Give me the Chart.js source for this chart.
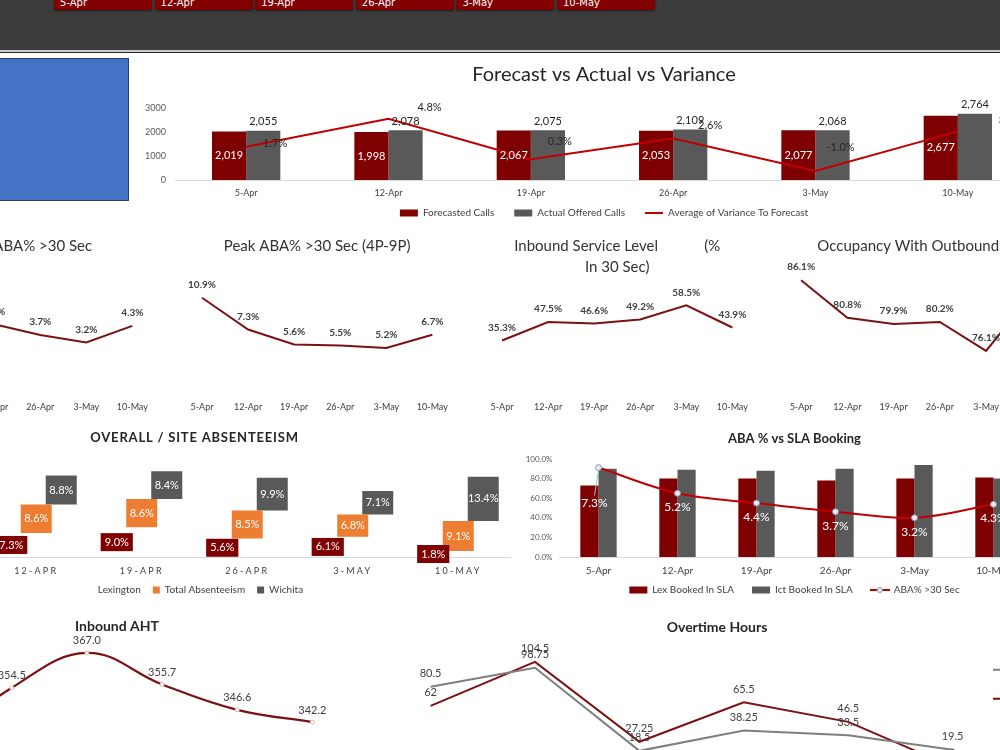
<!DOCTYPE html>
<html>
<head>
<meta charset="utf-8">
<title>Weekly Call Center Dashboard</title>
<script src="https://cdn.jsdelivr.net/npm/chart.js@4.4.1/dist/chart.umd.min.js"></script>
<style>
  html, body { margin: 0; padding: 0; }
  body { width: 1000px; height: 750px; overflow: hidden; position: relative; background: #fff; font-family: Lato, "DejaVu Sans", sans-serif; }
  .topbar { position: absolute; left: 0; top: 0; width: 1000px; height: 50px; background: #3c3b3b; }
  .topline { position: absolute; left: 0; top: 50px; width: 1000px; height: 2px; background: #c9c9c9; }
  .topline2 { position: absolute; left: 0; top: 52px; width: 1000px; height: 1px; background: #2a2a2a; }
  .week-btn { position: absolute; top: -5px; height: 15px; width: 98px; background: #820000; border-radius: 0 0 3px 3px;
              color: #fff; font: 10px "DejaVu Sans", sans-serif; line-height: 15px; padding-left: 6px; box-sizing: border-box;
              box-shadow: 0 1px 2px rgba(0,0,0,.5); }
  .blue-box { position: absolute; left: -1px; top: 58px; width: 130px; height: 143px; background: #4472c4; border: 1px solid #24406f; box-sizing: border-box; }
  .chart-box { position: absolute; }
</style>
</head>
<body>
<div class="topbar" id="topbar"></div>
<div class="topline"></div>
<div class="topline2"></div>
<div class="blue-box"></div>

<div class="chart-box" style="left:135px;top:55px;width:938px;height:173px"><canvas id="forecastChart"></canvas></div>

<div class="chart-box" style="left:-122.2px;top:228px;width:278.4px;height:190px"><canvas id="abaChart"></canvas></div>
<div class="chart-box" style="left:177.8px;top:228px;width:278.4px;height:190px"><canvas id="peakAbaChart"></canvas></div>
<div class="chart-box" style="left:477.8px;top:228px;width:278.4px;height:190px"><canvas id="serviceChart"></canvas></div>
<div class="chart-box" style="left:759.8px;top:228px;width:296.4px;height:190px"><canvas id="occupancyChart"></canvas></div>

<div class="chart-box" style="left:-122.5px;top:425px;width:633px;height:180px"><canvas id="absenceChart"></canvas></div>
<div class="chart-box" style="left:506.5px;top:425px;width:575px;height:180px"><canvas id="slaChart"></canvas></div>

<div class="chart-box" style="left:-121px;top:605px;width:476px;height:199px"><canvas id="ahtChart"></canvas></div>
<div class="chart-box" style="left:400px;top:605px;width:634px;height:185px"><canvas id="overtimeChart"></canvas></div>

<script>
/* ================= DATA ================= */

const weeks = ["5-Apr", "12-Apr", "19-Apr", "26-Apr", "3-May", "10-May"];

const forecastCalls = [2019, 1998, 2067, 2053, 2077, 2677];
const offeredCalls = [2055, 2078, 2075, 2109, 2068, 2764];
const varianceToForecast = [1.7, 4.8, 0.3, 2.6, -1.0, 3.4];
const callTicks = [0, 1000, 2000, 3000];

const abaOver30 = [7.3, 5.2, 4.4, 3.7, 3.2, 4.3];
const peakAba = [10.9, 7.3, 5.6, 5.5, 5.2, 6.7];
const serviceLevel = [35.3, 47.5, 46.6, 49.2, 58.5, 43.9];
const occupancy = [86.1, 80.8, 79.9, 80.2, 76.1, 84.2];

const absenceWeeks = ["12-Apr", "19-Apr", "26-Apr", "3-May", "10-May"];
const absLexington = [7.3, 9.0, 5.6, 6.1, 1.8];
const absTotal = [8.6, 8.6, 8.5, 6.8, 9.1];
const absWichita = [8.8, 8.4, 9.9, 7.1, 13.4];

const lexBookedSla = [73, 80, 80, 78, 80, 81];
const ictBookedSla = [90, 89, 88, 90, 94, 80];
const slaTicks = [0, 20, 40, 60, 80, 100];

const inboundAht = [334.0, 354.5, 367.0, 355.7, 346.6, 342.2];
const otWichita = [80.5, 98.75, 18.5, 38.25, 33.5, 19.5];
const otLexington = [62, 104.5, 27.25, 65.5, 46.5, 3];

/* ================= HELPERS ================= */

const pct = v => v.toFixed(1) + "%";
const thousands = v => v.toLocaleString("en-US");
const noGrid = () => ({ display: false, drawTicks: false });
const byIndex = (a, b) => a.datasetIndex - b.datasetIndex;

// an axis that only takes up room, nothing is drawn
function spacerAxis(width, extra) {
    return Object.assign({
        display: true,
        ticks: { display: false },
        grid: noGrid(),
        border: { display: false },
        afterFit(s) { s.width = width; }
    }, extra || {});
}

function legendStyles(styles) {
    return chart => Chart.defaults.plugins.legend.labels.generateLabels(chart).map(item => {
        if (styles[item.datasetIndex]) item.pointStyle = styles[item.datasetIndex];
        return item;
    });
}

function lineMarkerIcon() {
    const c = document.createElement("canvas");
    c.width = 20; c.height = 8;
    const g = c.getContext("2d");
    g.strokeStyle = "#c00000"; g.lineWidth = 2;
    g.beginPath(); g.moveTo(0, 4); g.lineTo(20, 4); g.stroke();
    g.fillStyle = "#e8ecf4"; g.strokeStyle = "#8497b0"; g.lineWidth = 1;
    g.beginPath(); g.arc(10, 4, 2.5, 0, Math.PI * 2); g.fill(); g.stroke();
    return c;
}

/* value labels next to bars / points */
const valueLabels = {
    id: "valueLabels",
    afterDatasetsDraw(chart) {
        const ctx = chart.ctx;
        chart.data.datasets.forEach((ds, di) => {
            const lab = ds.valueLabel;
            if (!lab) return;
            const meta = chart.getDatasetMeta(di);
            meta.data.forEach((el, i) => {
                const v = ds.data[i];
                if (v == null) return;
                const text = lab.format ? lab.format(v) : String(v);
                const shift = (lab.shift && lab.shift[i]) || [0, 0];
                const x = el.x + (lab.dx || 0) + shift[0];
                const y = (lab.anchor === "center" ? (el.y + el.base) / 2 : el.y) + (lab.dy || 0) + shift[1];
                ctx.save();
                ctx.font = lab.font || "10px Lato";
                ctx.textAlign = "center";
                ctx.textBaseline = "middle";
                if (lab.leader && Math.abs(y - el.y) > 25) {
                    ctx.strokeStyle = lab.leader;
                    ctx.lineWidth = 1;
                    ctx.beginPath(); ctx.moveTo(el.x, el.y + 3); ctx.lineTo(x, y - 8); ctx.stroke();
                }
                if (lab.bg) {
                    const w = ctx.measureText(text).width + 2 * (lab.padX || 4);
                    const h = lab.boxH || 16;
                    ctx.fillStyle = lab.bg;
                    ctx.fillRect(x - w / 2, y - h / 2, w, h);
                }
                ctx.fillStyle = lab.color || "#404040";
                ctx.fillText(text, x, y);
                ctx.restore();
            });
        });
    }
};

/* x labels drawn outside the (thin) axis box, letter spacing like excel */
const axisTweaks = {
    id: "axisTweaks",
    beforeDraw(chart, args, opts) {
        const ctx = chart.ctx;
        const x = chart.scales.x;
        if (x && !x._noClip) {
            x._computeLabelArea = () => undefined;
            x._noClip = true;
        }
        const wrap = (obj, fn, sp) => {
            if (!obj || !sp || obj["_ls_" + fn]) return;
            const orig = obj[fn];
            obj[fn] = function (...a) {
                ctx.letterSpacing = sp;
                orig.apply(this, a);
                ctx.letterSpacing = "0px";
            };
            obj["_ls_" + fn] = true;
        };
        wrap(x, "drawLabels", opts.x);
        wrap(chart.titleBlock, "draw", opts.title);
    }
};

Chart.register(valueLabels, axisTweaks);
Chart.defaults.font.family = "Lato, 'Open Sans', sans-serif";
Chart.defaults.color = "#404040";
Chart.defaults.animation = false;
Chart.defaults.maintainAspectRatio = false;
Chart.defaults.layout.padding = 0;
Chart.defaults.plugins.tooltip.enabled = false;

/* ================= HEADER ================= */

weeks.forEach((w, i) => {
    const b = document.createElement("div");
    b.className = "week-btn";
    b.style.left = (54 + i * 100.6) + "px";
    b.textContent = w;
    document.getElementById("topbar").appendChild(b);
});

/* ================= FORECAST VS ACTUAL ================= */

new Chart(document.getElementById("forecastChart"), {
    data: {
        labels: weeks,
        datasets: [
            {
                type: "bar", label: "Forecasted Calls", data: forecastCalls,
                backgroundColor: "#7f0000", order: 1,
                valueLabel: { anchor: "center", color: "#ffffff", font: "11px Lato", format: thousands }
            },
            {
                type: "bar", label: "Actual Offered Calls", data: offeredCalls,
                backgroundColor: "#595959", order: 1,
                valueLabel: { color: "#262626", font: "11px Lato", dy: -9, format: thousands }
            },
            {
                type: "line", label: "Average of Variance To Forecast", data: varianceToForecast,
                yAxisID: "y1", borderColor: "#c00000", borderWidth: 2, pointRadius: 0, order: 0,
                valueLabel: {
                    color: "#262626", font: "11px Lato", format: pct,
                    shift: [[29, -3], [41, -11], [29, -18], [37, -13], [25, -24], [53, -11]]
                }
            }
        ]
    },
    options: {
        datasets: { bar: { categoryPercentage: 0.48, barPercentage: 1 } },
        plugins: {
            title: {
                display: true, text: "Forecast vs Actual vs Variance", color: "#262626",
                font: { size: 20, weight: "normal" }, padding: { top: 8, bottom: 21 }
            },
            legend: {
                position: "bottom",
                labels: {
                    usePointStyle: true, pointStyleWidth: 18, boxHeight: 7, padding: 20,
                    font: { size: 10 }, color: "#404040", sort: byIndex,
                    generateLabels: legendStyles({ 0: "rect", 1: "rect", 2: "line" })
                }
            }
        },
        scales: {
            x: {
                grid: noGrid(), border: { color: "#d9d9d9" },
                ticks: { padding: 8, font: { size: 9 }, color: "#404040" },
                afterFit(s) { s.height = 8; }
            },
            y: {
                min: callTicks[0], max: callTicks[callTicks.length - 1],
                afterBuildTicks(s) { s.ticks = callTicks.map(v => ({ value: v })); },
                ticks: { padding: 9, font: { size: 9 }, color: "#595959", callback: v => String(v) },
                grid: noGrid(), border: { display: false },
                afterFit(s) { s.width = 40; }
            },
            y1: spacerAxis(44, { position: "right", min: -2, max: 6 })
        }
    }
});

/* ================= SMALL TREND LINES ================= */

function trendChart(id, title, values, yMin, yMax, titlePad, leftRoom) {
    new Chart(document.getElementById(id), {
        type: "line",
        data: {
            labels: weeks,
            datasets: [{
                data: values, borderColor: "#7b1113", borderWidth: 2, pointRadius: 0, clip: false,
                valueLabel: { font: "bold 10px Lato", color: "#404040", dy: -13, format: pct }
            }]
        },
        options: {
            plugins: {
                legend: { display: false },
                title: {
                    display: true, text: title, color: "#333333",
                    font: { size: 15, weight: "normal", lineHeight: 1.4 }, padding: titlePad
                }
            },
            scales: {
                x: {
                    offset: true, grid: noGrid(), border: { display: false },
                    ticks: { padding: 8, autoSkip: false, maxRotation: 0, font: { size: 9 }, color: "#404040" },
                    afterFit(s) { s.height = 24; }
                },
                y: leftRoom ? spacerAxis(leftRoom, { min: yMin, max: yMax }) : { display: false, min: yMin, max: yMax }
            }
        }
    });
}

const oneLinePad = { top: 7.5, bottom: 31.5 };
trendChart("abaChart", "Overall ABA% >30 Sec", abaOver30, -0.2, 6.8, oneLinePad);
trendChart("peakAbaChart", "Peak ABA% >30 Sec (4P-9P)", peakAba, 0, 12, oneLinePad);
trendChart("serviceChart", ["Inbound Service Level            (%", "In 30 Sec)"], serviceLevel, 0, 70, { top: 7.5, bottom: 10.5 });
trendChart("occupancyChart", "Occupancy With Outbound", occupancy, 70, 85, oneLinePad, 18);

/* ================= ABSENTEEISM ================= */

new Chart(document.getElementById("absenceChart"), {
    type: "bar",
    data: {
        labels: absenceWeeks,
        datasets: [
            {
                label: "Lexington", data: absLexington, backgroundColor: "rgba(0,0,0,0)",
                valueLabel: { anchor: "center", bg: "#7f0000", color: "#ffffff", font: "11px Lato", padX: 4, boxH: 18, format: pct }
            },
            {
                label: "Total Absenteeism", data: absTotal, backgroundColor: "#ed7d31",
                valueLabel: { anchor: "center", color: "#ffffff", font: "11px Lato", format: pct }
            },
            {
                label: "Wichita", data: absWichita, backgroundColor: "#595959",
                valueLabel: { anchor: "center", color: "#ffffff", font: "11px Lato", format: pct }
            }
        ]
    },
    options: {
        datasets: { bar: { categoryPercentage: 0.711, barPercentage: 1.24 } },
        plugins: {
            title: {
                display: true, text: "OVERALL / SITE ABSENTEEISM", color: "#262626",
                font: { size: 13, weight: "bold" }, padding: { top: 5.2, bottom: 12.2 }
            },
            legend: {
                position: "bottom",
                labels: { boxWidth: 7, boxHeight: 7, padding: 12, font: { size: 10 }, color: "#404040" }
            },
            axisTweaks: { x: "2.2px", title: "0.8px" }
        },
        scales: {
            x: {
                stacked: false, grid: noGrid(), border: { color: "#d9d9d9" },
                ticks: {
                    padding: 9, font: { size: 9 }, color: "#404040",
                    callback(v) { return this.getLabelForValue(v).toUpperCase(); }
                },
                afterFit(s) { s.height = 16; }
            },
            y: spacerAxis(105.5, { stacked: true, min: 0, max: 30 })
        }
    }
});

/* ================= ABA % VS SLA BOOKING ================= */

new Chart(document.getElementById("slaChart"), {
    data: {
        labels: weeks,
        datasets: [
            { type: "bar", label: "Lex Booked In SLA", data: lexBookedSla, backgroundColor: "#7f0000", order: 2 },
            { type: "bar", label: "Ict Booked In SLA", data: ictBookedSla, backgroundColor: "#595959", order: 2 },
            {
                type: "line", label: "ABA% >30 Sec", data: abaOver30, yAxisID: "y1",
                borderColor: "#c00000", borderWidth: 2, tension: 0.35,
                pointRadius: 3, pointBackgroundColor: "#e8ecf4", pointBorderColor: "#8497b0", pointBorderWidth: 1,
                order: 0,
                valueLabel: {
                    color: "#ffffff", font: "12px Lato", dy: 14, format: pct,
                    shift: [[-4, 22]], leader: "#a9b8d0"
                }
            }
        ]
    },
    options: {
        datasets: { bar: { categoryPercentage: 0.46, barPercentage: 1 } },
        plugins: {
            title: {
                display: true, text: "ABA % vs SLA Booking", color: "#262626",
                font: { size: 13, weight: "bold" }, padding: { top: 6.2, bottom: 12.2 }
            },
            legend: {
                position: "bottom",
                labels: {
                    usePointStyle: true, pointStyleWidth: 18, boxHeight: 7, padding: 18,
                    font: { size: 10 }, color: "#404040", sort: byIndex,
                    generateLabels: legendStyles({ 0: "rect", 1: "rect", 2: lineMarkerIcon() })
                }
            }
        },
        scales: {
            x: {
                grid: noGrid(), border: { color: "#d9d9d9" },
                ticks: { padding: 8, font: { size: 10 }, color: "#404040" },
                afterFit(s) { s.height = 10; }
            },
            y: {
                min: slaTicks[0], max: slaTicks[slaTicks.length - 1],
                afterBuildTicks(s) { s.ticks = slaTicks.map(v => ({ value: v })); },
                ticks: { padding: 6.5, font: { size: 8 }, color: "#595959", callback: v => pct(v) },
                grid: noGrid(), border: { display: false },
                afterFit(s) { s.width = 52; }
            },
            y1: spacerAxis(49, { position: "right", min: 0, max: 8 })
        }
    }
});

/* ================= INBOUND AHT ================= */

new Chart(document.getElementById("ahtChart"), {
    type: "line",
    data: {
        labels: weeks,
        datasets: [{
            label: "Inbound AHT", data: inboundAht, borderColor: "#7b1113", borderWidth: 2.2, tension: 0.4,
            pointRadius: 2, pointBackgroundColor: "#ffffff", pointBorderColor: "#dcb4b4", pointBorderWidth: 1, clip: false,
            valueLabel: { font: "11px Lato", color: "#404040", dy: -12, format: v => v.toFixed(1) }
        }]
    },
    options: {
        plugins: {
            legend: { display: false },
            title: {
                display: true, text: "Inbound AHT", color: "#262626",
                font: { size: 14, weight: "bold" }, padding: { top: 12.6, bottom: 4.6 }
            }
        },
        scales: {
            x: {
                offset: true, grid: noGrid(), border: { display: false },
                ticks: { padding: 8, autoSkip: false, font: { size: 9 } },
                afterFit(s) { s.height = 20; }
            },
            y: spacerAxis(20, { min: 320, max: 372 })
        }
    }
});

/* ================= OVERTIME HOURS ================= */

new Chart(document.getElementById("overtimeChart"), {
    type: "line",
    data: {
        labels: weeks,
        datasets: [
            {
                label: "Wichita", data: otWichita, borderColor: "#7f7f7f", borderWidth: 2, pointRadius: 0, clip: false,
                valueLabel: { font: "11px Lato", color: "#404040", dy: -13 }
            },
            {
                label: "Lexington", data: otLexington, borderColor: "#7b1113", borderWidth: 2, pointRadius: 0, clip: false,
                valueLabel: { font: "11px Lato", color: "#404040", dy: -13 }
            }
        ]
    },
    options: {
        plugins: {
            title: {
                display: true, text: "Overtime Hours", color: "#262626",
                font: { size: 14, weight: "bold" }, padding: { top: 13.6, bottom: 10.4 }
            },
            legend: {
                position: "right", align: "start", fullSize: false, maxWidth: 60,
                labels: {
                    usePointStyle: true, pointStyleWidth: 18, padding: 19, font: { size: 10 }, color: "#404040",
                    generateLabels: legendStyles({ 0: "line", 1: "line" })
                }
            }
        },
        scales: {
            x: {
                offset: false, grid: noGrid(), border: { display: false },
                ticks: { padding: 8, autoSkip: false, font: { size: 9 } },
                afterFit(s) { s.height = 20; }
            },
            y: spacerAxis(30.6, { min: 0, max: 120 }),
            yR: spacerAxis(21.4, { position: "right" })
        }
    }
});
</script>
</body>
</html>
